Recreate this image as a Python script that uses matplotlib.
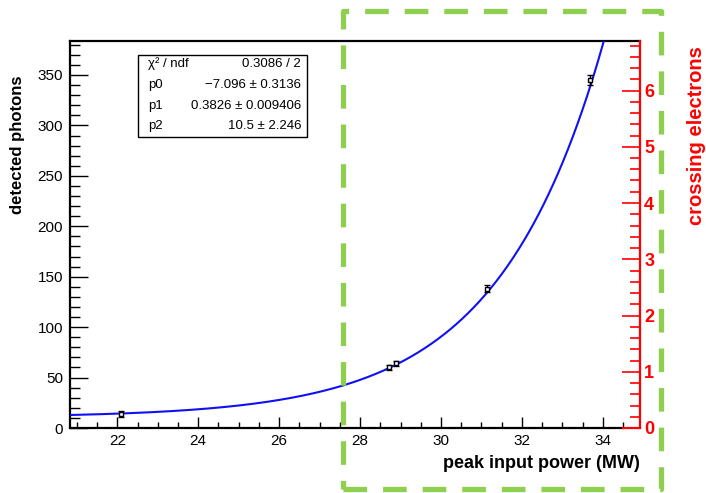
import numpy as np
import matplotlib
matplotlib.use("Agg")
import matplotlib.pyplot as plt
from matplotlib.patches import Rectangle
from matplotlib.lines import Line2D
from matplotlib.ticker import MultipleLocator

plt.rcParams['font.family'] = ['Liberation Sans', 'DejaVu Sans']

# ---- data ----
power = [22.1, 28.72, 28.9, 31.15, 33.68]          # peak input power (MW)
photons = [14.0, 60.0, 64.0, 138.0, 345.0]        # detected photons
photon_err = [3.0, 2.5, 2.5, 3.5, 5.0]
# fit parameters shown in the stats box: f(x) = exp(p0 + p1*x) + p2
p0, p1, p2 = -7.096, 0.3826, 10.5
stats_names = ["χ² / ndf", "p0", "p1", "p2"]
stats_values = ["0.3086 / 2", "\u22127.096 ± 0.3136", "0.3826 ± 0.009406", "10.5 ± 2.246"]
x_ticks = [22, 24, 26, 28, 30, 32, 34]
y_ticks = [0, 50, 100, 150, 200, 250, 300, 350]
e_ticks = [0, 1, 2, 3, 4, 5, 6]

XMIN, XMAX = 20.83, 34.92
YMAX = 383.7
EMAX = 6.88

W, H = 706, 493
fig = plt.figure(figsize=(W / 100, H / 100), dpi=100)
ax_l, ax_r, ax_t, ax_b = 70, 640, 41, 428
ax = fig.add_axes([ax_l / W, 1 - ax_b / H, (ax_r - ax_l) / W, (ax_b - ax_t) / H])

# fit curve
xf = np.linspace(XMIN, XMAX, 600)
yf = np.exp(p0 + p1 * xf) + p2
ax.plot(xf, yf, color='#1010f5', lw=1.5, zorder=3)

# data points
ax.errorbar(power, photons, yerr=photon_err, fmt='s', ms=3.5, mfc='white',
            mec='black', mew=1.0, ecolor='black', elinewidth=1.0, capsize=2,
            zorder=4)

ax.set_xlim(XMIN, XMAX)
ax.set_ylim(0, YMAX)
ax.set_xticks(x_ticks)
ax.set_yticks(y_ticks)
ax.xaxis.set_minor_locator(MultipleLocator(0.5))
ax.yaxis.set_minor_locator(MultipleLocator(10))
ax.tick_params(axis='x', which='major', direction='in', length=8, width=1,
               labelsize=11, pad=4, top=False)
ax.tick_params(axis='x', which='minor', direction='in', length=4.5, width=1, top=False)
ax.tick_params(axis='y', which='major', direction='in', length=13, width=1,
               labelsize=11, pad=5, right=False)
ax.tick_params(axis='y', which='minor', direction='in', length=7, width=1, right=False)

for s in ['left', 'top', 'bottom']:
    ax.spines[s].set_linewidth(1.6)
    ax.spines[s].set_color('black')
ax.spines['bottom'].set_bounds(XMIN, 34.5)
ax.spines['right'].set_visible(False)
ax.add_line(Line2D([34.5, XMAX], [0, 0], transform=ax.get_xaxis_transform(),
                   color='red', lw=1.6, clip_on=False, zorder=5))

ax.set_xlabel("peak input power (MW)", fontsize=13, fontweight='bold')
ax.xaxis.set_label_coords(1.0, -0.07)
ax.xaxis.label.set_horizontalalignment('right')
fig.text(18 / W, 1 - 145 / H, "detected photons", fontsize=12, fontweight='bold',
         rotation=90, ha='center', va='center')

# right red axis
ax2 = ax.twinx()
ax2.set_ylim(0, EMAX)
ax2.set_yticks(e_ticks)
ax2.yaxis.set_minor_locator(MultipleLocator(0.2))
ax2.tick_params(axis='y', which='major', direction='in', length=13, width=1.2,
                colors='red', labelsize=13, pad=3)
ax2.tick_params(axis='y', which='minor', direction='in', length=7, width=1.2,
                colors='red')
for lab in ax2.get_yticklabels():
    lab.set_fontweight('bold')
for s in ['left', 'top', 'bottom']:
    ax2.spines[s].set_visible(False)
ax2.spines['right'].set_color('red')
ax2.spines['right'].set_linewidth(1.6)
fig.text(697 / W, 1 - 136 / H, "crossing electrons", color='red', fontsize=14.5,
         fontweight='bold', rotation=90, ha='center', va='center')

# stats box (figure pixels)
bx0, bx1, by0, by1 = 138, 307, 55, 137
fig.patches.append(Rectangle((bx0 / W, 1 - by1 / H), (bx1 - bx0) / W, (by1 - by0) / H,
                             transform=fig.transFigure, fill=True, facecolor='white',
                             edgecolor='black', lw=1.0, zorder=10))
row_y = [64, 85, 106, 126]
for name, val, ry in zip(stats_names, stats_values, row_y):
    fig.text(148 / W, 1 - ry / H, name, fontsize=9.5, ha='left', va='center', zorder=11)
    fig.text(301 / W, 1 - ry / H, val, fontsize=9.5, ha='right', va='center', zorder=11)

# green dashed rectangle
gx0, gx1, gy0, gy1 = 343, 661, 11, 489
lw = 3.8
fig.patches.append(Rectangle((gx0 / W, 1 - gy1 / H), (gx1 - gx0) / W, (gy1 - gy0) / H,
                             transform=fig.transFigure, fill=False,
                             edgecolor='#8fcf4f', lw=lw,
                             linestyle=(0, (17 / lw, 11.5 / lw)),
                             joinstyle='round', capstyle='butt', zorder=20))

fig.savefig("out.png", dpi=100)
